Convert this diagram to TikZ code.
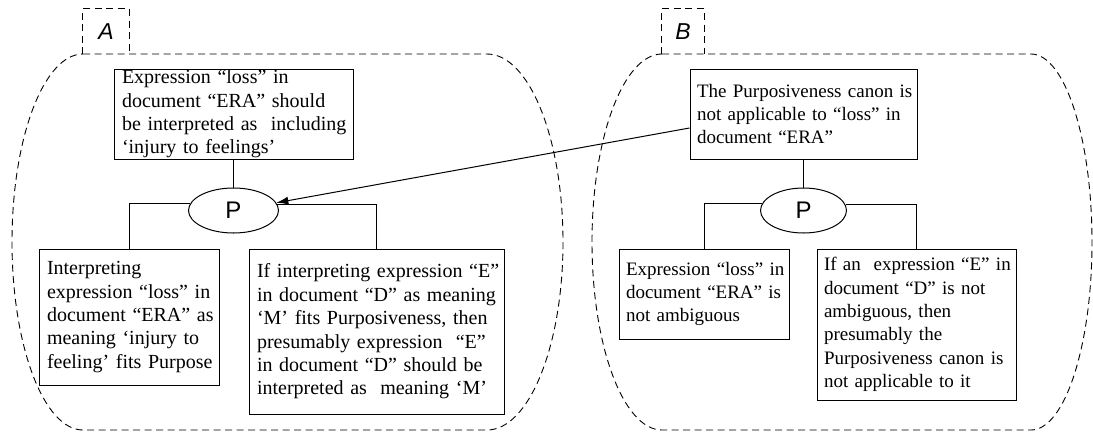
\documentclass[tikz,border=0pt]{standalone}
\usepackage{fontspec}
\setmainfont{Liberation Serif}
\newfontfamily\labelsans{Liberation Sans}
\usetikzlibrary{shapes.geometric,arrows.meta}

\tikzset{
  stmtA/.style={draw, line width=1pt, align=left, inner xsep=8pt, inner ysep=0pt,
    font=\fontsize{20}{23.4}\selectfont},
  stmtB/.style={stmtA, inner xsep=7pt, font=\fontsize{19}{23.4}\selectfont},
  pnode/.style={draw, ellipse, line width=1pt, inner sep=0pt,
    font=\labelsans\fontsize{24}{24}\selectfont},
  region/.style={line width=0.9pt, dash pattern=on 7pt off 4.5pt},
  tagnode/.style={inner sep=0pt, minimum height=45pt,
    font=\labelsans\itshape\fontsize{23}{23}\selectfont},
  link/.style={line width=1pt},
  arrowlink/.style={link, -{Latex[length=12pt,width=8pt]}},
}

\begin{document}
\begin{tikzpicture}[x=1pt,y=-1pt]
\useasboundingbox (0,0) rectangle (1093,432);

% argument regions
\draw[region] (83,54) -- (487,54)
  arc[start angle=-90,end angle=90,x radius=76,y radius=188] -- (83,430)
  arc[start angle=90,end angle=270,x radius=71,y radius=188] -- cycle;
\draw[region] (662,54) -- (1031,54)
  arc[start angle=-90,end angle=90,x radius=61,y radius=188] -- (662,430)
  arc[start angle=90,end angle=270,x radius=70,y radius=188] -- cycle;

% region tags
\node[tagnode, minimum width=46pt] (tagA) at (106,31.5) {A};
\draw[region] (tagA.south west) |- (tagA.north east) -- (tagA.south east);
\node[tagnode, minimum width=42pt] (tagB) at (683,31.5) {B};
\draw[region] (tagB.south west) |- (tagB.north east) -- (tagB.south east);

% argument A
\node[stmtA, text width=223pt, minimum height=90pt] (a1) at (233.5,114)
  {\mbox{Expression “loss” in}\\
   \mbox{document “ERA” should}\\
   \mbox{be interpreted as\ \ including}\\
   \mbox{‘injury to feelings’}};
\node[pnode, minimum width=90pt, minimum height=45pt] (pa) at (233.5,210.5) {P};
\node[stmtA, text width=164pt, minimum height=136pt] (a2) at (129,317)
  {\mbox{Interpreting}\\
   \mbox{expression “loss” in}\\
   \mbox{document “ERA” as}\\
   \mbox{meaning ‘injury to}\\
   \mbox{feeling’ fits Purpose}};
\node[stmtA, text width=239pt, minimum height=165pt] (a3) at (376.5,331.5)
  {\mbox{If interpreting expression “E”}\\
   \mbox{in document “D” as meaning}\\
   \mbox{‘M’ fits Purposiveness, then}\\
   \mbox{presumably expression\ \ “E”}\\
   \mbox{in document “D” should be}\\
   \mbox{interpreted as\ \ meaning ‘M’}};

\draw[link] (a1.south) -- (pa.north);
\draw[link] (pa.171.5) -| (a2.north);
\draw[link] (pa.8.5) -| (a3.north);

% argument B
\node[stmtB, text width=213pt, minimum height=90pt] (b1) at (803.5,114)
  {\mbox{The Purposiveness canon is}\\
   \mbox{not applicable to “loss” in}\\
   \mbox{document “ERA”}};
\node[pnode, minimum width=86pt, minimum height=45pt] (pb) at (803.5,210.5) {P};
\node[stmtB, text width=156pt, minimum height=90pt] (b2) at (704,294)
  {\mbox{Expression “loss” in}\\
   \mbox{document “ERA” is}\\
   \mbox{not ambiguous}};
\node[stmtB, text width=185pt, minimum height=151pt] (b3) at (916.5,324.5)
  {\mbox{If an\ \ expression “E” in}\\
   \mbox{document “D” is not}\\
   \mbox{ambiguous, then}\\
   \mbox{presumably the}\\
   \mbox{Purposiveness canon is}\\
   \mbox{not applicable to it}};

\draw[link] (b1.south) -- (pb.north);
\draw[link] (pb.171.5) -| (b2.north);
\draw[link] (pb.8.5) -| (b3.north);

% B attacks the inference of A
\draw[arrowlink] ([yshift=-14pt]b1.west) -- (pa);
\end{tikzpicture}
\end{document}
